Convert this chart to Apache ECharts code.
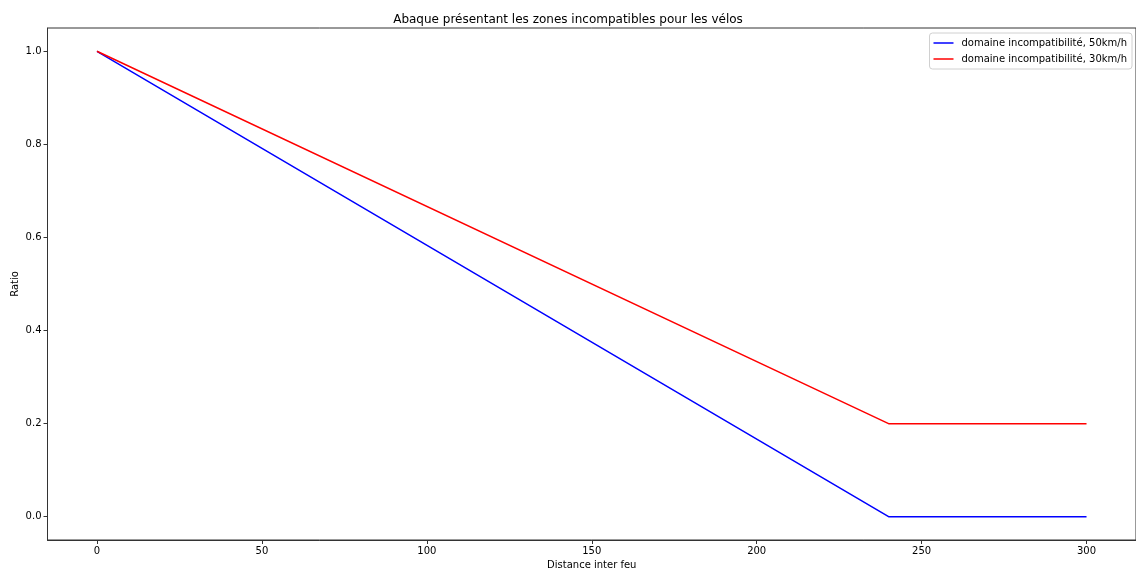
<!DOCTYPE html>
<html>
<head>
<meta charset="utf-8">
<script src="https://cdn.jsdelivr.net/npm/echarts@6/dist/echarts.min.js"></script>
<style>html,body{margin:0;padding:0;background:#fff}#c{width:1136px;height:569px}</style>
</head>
<body>
<div id="c"></div>
<script>
const distances = [0, 240, 300];
const ratio50 = [1.0, 0.0, 0.0];
const ratio30 = [1.0, 0.2, 0.2];
const xTicks = [0, 50, 100, 150, 200, 250, 300];
const yTicks = [0.0, 0.2, 0.4, 0.6, 0.8, 1.0];
const seriesNames = ['domaine incompatibilité, 50km/h', 'domaine incompatibilité, 30km/h'];

const font = 'DejaVu Sans';
const chart = echarts.init(document.getElementById('c'));
chart.setOption({
  animation: false,
  backgroundColor: '#fff',
  title: {
    text: 'Abaque présentant les zones incompatibles pour les vélos',
    left: 'center', top: 9,
    textStyle: {fontFamily: font, fontSize: 12, fontWeight: 'normal', color: '#000'}
  },
  legend: {
    orient: 'vertical', right: 4, top: 33,
    backgroundColor: '#fff', borderColor: '#d0d0d0', borderWidth: 1, borderRadius: 3,
    padding: [5, 5, 5, 4], itemGap: 6, itemWidth: 20, itemHeight: 1.5, icon: 'rect',
    textStyle: {fontFamily: font, fontSize: 10, color: '#000', padding: [0, 0, 0, 3]},
    data: seriesNames
  },
  grid: {left: 47.5, right: 0, top: 28, bottom: 29, show: true, borderColor: '#333', borderWidth: 1,
    outerBoundsMode: 'none', containLabel: false},
  xAxis: {
    type: 'value', min: -15, max: 315,
    name: 'Distance inter feu', nameLocation: 'middle', nameGap: 20, nameMoveOverlap: false,
    nameTextStyle: {fontFamily: font, fontSize: 10, color: '#000'},
    axisLine: {show: true, onZero: false, lineStyle: {color: '#333'}},
    axisTick: {show: true, inside: false, length: 4, customValues: xTicks, lineStyle: {color: '#333'}},
    axisLabel: {customValues: xTicks, fontFamily: font, fontSize: 10, color: '#000', margin: 6},
    splitLine: {show: false}
  },
  yAxis: {
    type: 'value', min: -0.05, max: 1.05,
    name: 'Ratio', nameLocation: 'middle', nameGap: 27, nameRotate: 90, nameMoveOverlap: false,
    nameTextStyle: {fontFamily: font, fontSize: 10, color: '#000'},
    axisLine: {show: true, onZero: false, lineStyle: {color: '#333'}},
    axisTick: {show: true, inside: false, length: 4, customValues: yTicks, lineStyle: {color: '#333'}},
    axisLabel: {customValues: yTicks, fontFamily: font, fontSize: 10, color: '#000', margin: 6,
      formatter: v => v.toFixed(1)},
    splitLine: {show: false}
  },
  series: [
    {name: seriesNames[0], type: 'line', symbol: 'none', color: '#0000ff',
     lineStyle: {width: 1.5, color: '#0000ff'},
     data: distances.map((d, i) => [d, ratio50[i]])},
    {name: seriesNames[1], type: 'line', symbol: 'none', color: '#ff0000',
     lineStyle: {width: 1.5, color: '#ff0000'},
     data: distances.map((d, i) => [d, ratio30[i]])}
  ]
});
</script>
</body>
</html>
